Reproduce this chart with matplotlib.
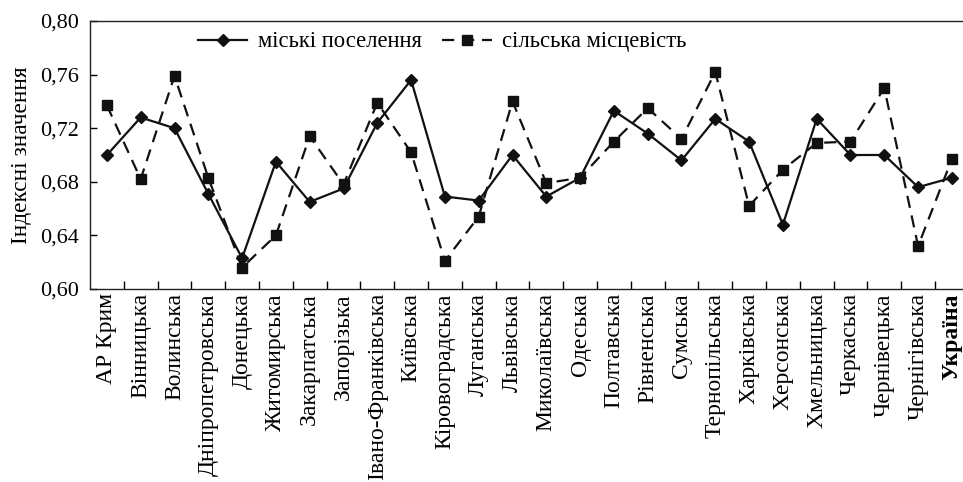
import matplotlib
matplotlib.use("Agg")
import matplotlib.pyplot as plt
import numpy as np

regions = ["АР Крим", "Вінницька", "Волинська", "Дніпропетровська", "Донецька",
           "Житомирська", "Закарпатська", "Запорізька", "Івано-Франківська", "Київська",
           "Кіровоградська", "Луганська", "Львівська", "Миколаївська", "Одеська",
           "Полтавська", "Рівненська", "Сумська", "Тернопільська", "Харківська",
           "Херсонська", "Хмельницька", "Черкаська", "Чернівецька", "Чернігівська",
           "Україна"]

urban = [0.700, 0.728, 0.720, 0.671, 0.623, 0.695, 0.665, 0.675, 0.724, 0.756,
         0.669, 0.666, 0.700, 0.669, 0.683, 0.733, 0.716, 0.696, 0.727, 0.710,
         0.648, 0.727, 0.700, 0.700, 0.676, 0.683]

rural = [0.737, 0.682, 0.759, 0.683, 0.616, 0.640, 0.714, 0.678, 0.739, 0.702,
         0.621, 0.654, 0.740, 0.679, 0.683, 0.710, 0.735, 0.712, 0.762, 0.662,
         0.689, 0.709, 0.710, 0.750, 0.632, 0.697]

yticks = [0.60, 0.64, 0.68, 0.72, 0.76, 0.80]
ytick_labels = ["0,60", "0,64", "0,68", "0,72", "0,76", "0,80"]

plt.rcParams['font.family'] = ['Liberation Serif', 'DejaVu Serif']

fig = plt.figure(figsize=(9.63, 4.82), dpi=100)
ax = fig.add_axes([90/963, 1 - 289/482, (963 - 90)/963, (289 - 21)/482])

x = np.arange(len(regions))
ax.plot(x, urban, color='#111111', lw=1.6, marker='D', markersize=6.5,
        label='міські поселення')
ax.plot(x, rural, color='#111111', lw=1.6, ls=(0, (5.5, 3.5)), marker='s', markersize=6.5,
        label='сільська місцевість')

ax.set_ylim(0.60, 0.80)
ax.set_xlim(-0.5, -0.5 + 873/33.8)
ax.set_yticks(yticks)
ax.set_yticklabels(ytick_labels, fontsize=16)
ax.tick_params(axis='y', direction='in', length=5, width=1, pad=8)

ax.set_xticks(x)
ax.set_xticklabels(regions, rotation=90, fontsize=17)
ax.tick_params(axis='x', which='major', length=0, pad=3)
ax.set_xticks(np.arange(0.5, len(regions) - 0.5, 1.0), minor=True)
ax.tick_params(axis='x', which='minor', direction='in', length=6, width=1)
ax.get_xticklabels()[-1].set_fontweight('bold')

ax.spines['right'].set_visible(False)
for s in ['left', 'bottom', 'top']:
    ax.spines[s].set_linewidth(1.0)
    ax.spines[s].set_color('#222222')

ax.set_ylabel('Індексні значення', fontsize=16.8, labelpad=6)

ax.legend(loc='upper left', bbox_to_anchor=(0.1, 1.037), ncol=2, frameon=False,
          fontsize=16.3, handlelength=2.2, columnspacing=0.9, handletextpad=0.45)

fig.savefig('out.png', dpi=100)
